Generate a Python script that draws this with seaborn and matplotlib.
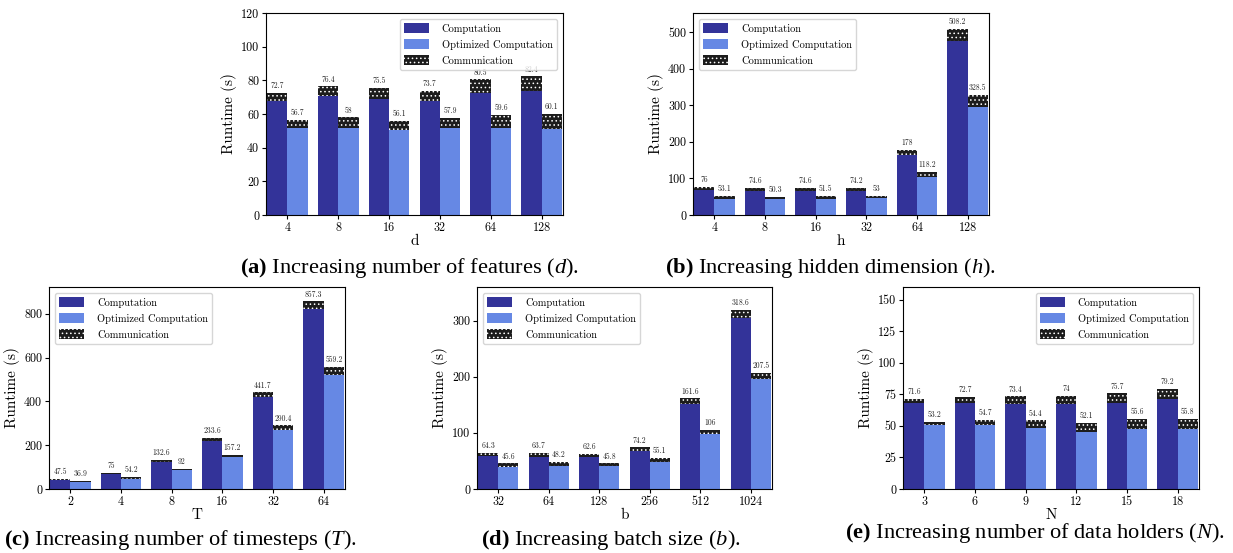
import numpy as np
import matplotlib
matplotlib.use("Agg")
import matplotlib.pyplot as plt
import matplotlib.patches as mpatches
import pandas as pd
import seaborn as sns

# values
d_vals = ["4", "8", "16", "32", "64", "128"]
d_comp = [67.5, 70.5, 69.2, 67.5, 72.7, 73.5]
d_opt = [51.4, 51.8, 50.2, 51.8, 51.8, 51.2]
d_total = [72.7, 76.4, 75.5, 73.7, 80.5, 82.4]
d_opt_total = [56.7, 58, 56.1, 57.9, 59.6, 60.1]

h_vals = ["4", "8", "16", "32", "64", "128"]
h_comp = [68.4, 65.0, 65.0, 65.0, 164, 476]
h_opt = [44.0, 44.0, 44.0, 46.5, 104, 296]
h_total = [76, 74.6, 74.6, 74.2, 178, 508.2]
h_opt_total = [53.1, 50.3, 51.5, 53, 118.2, 328.5]

t_vals = ["2", "4", "8", "16", "32", "64"]
t_comp = [39.5, 70, 123, 220, 420, 823]
t_opt = [33, 44, 85, 146, 269, 520]
t_total = [47.5, 75, 132.6, 233.6, 441.7, 857.3]
t_opt_total = [36.9, 54.2, 92, 157.2, 290.4, 559.2]

b_vals = ["32", "64", "128", "256", "512", "1024"]
b_comp = [59.4, 57.6, 56.4, 67, 151.5, 305]
b_opt = [39, 41.6, 41.6, 48.7, 97.4, 195.5]
b_total = [64.3, 63.7, 62.6, 74.2, 161.6, 318.6]
b_opt_total = [45.6, 48.2, 45.8, 55.1, 106, 207.5]

n_vals = ["3", "6", "9", "12", "15", "18"]
n_comp = [68.3, 68.3, 67.7, 67.5, 68.3, 70.9]
n_opt = [50.5, 50.5, 48.7, 45.2, 47.6, 47.6]
n_total = [71.6, 72.7, 73.4, 74, 75.7, 79.2]
n_opt_total = [53.2, 54.7, 54.4, 52.1, 55.6, 55.8]

DARK = "#333399"
LIGHT = "#6688e4"
HATCH_FACE = "#1c1c1c"
HATCH = "...."

plt.rcParams["mathtext.fontset"] = "custom"
plt.rcParams["mathtext.rm"] = "Liberation Serif"
plt.rcParams["mathtext.it"] = "Liberation Serif:italic"
plt.rcParams["mathtext.bf"] = "Liberation Serif:bold"
plt.rcParams["hatch.linewidth"] = 0.6
CM = "cmr10"

W, H = 1233, 553
fig = plt.figure(figsize=(W / 100, H / 100), dpi=100)


def px_axes(left, right, top, bottom):
    return fig.add_axes([left / W, (H - bottom) / H, (right - left) / W, (bottom - top) / H])


def panel(ax, xs, comp, opt, total, opt_total, xlabel, ymax, yticks, legend_loc):
    kinds = ["Computation", "Optimized Computation"]
    tot = pd.DataFrame({"x": xs * 2, "kind": np.repeat(kinds, len(xs)),
                        "val": total + opt_total})
    base = pd.DataFrame({"x": xs * 2, "kind": np.repeat(kinds, len(xs)),
                         "val": comp + opt})
    # totals first (communication on top), computation drawn over them
    sns.barplot(data=tot, x="x", y="val", hue="kind", order=xs, hue_order=kinds,
                palette=[HATCH_FACE, HATCH_FACE], saturation=1, errorbar=None,
                legend=False, width=0.8, ax=ax)
    for cont in ax.containers:
        for p in cont:
            p.set_hatch(HATCH)
            p.set_edgecolor("white")
            p.set_linewidth(0)
        ax.bar_label(cont, fmt="%g", padding=2, fontsize=5.5, family=CM, color="#222222")
    sns.barplot(data=base, x="x", y="val", hue="kind", order=xs, hue_order=kinds,
                palette=[DARK, LIGHT], saturation=1, errorbar=None,
                legend=False, width=0.8, linewidth=0, ax=ax)
    ax.set_xlim(-0.42, len(xs) - 0.58)
    ax.set_ylim(0, ymax)
    ax.set_yticks(yticks)
    ax.set_xlabel(xlabel, family=CM, fontsize=11, labelpad=0)
    ax.set_ylabel("Runtime (s)", family=CM, fontsize=11, labelpad=3)
    ax.tick_params(labelsize=8.7, length=3, pad=2)
    for lab in ax.get_xticklabels() + ax.get_yticklabels():
        lab.set_family(CM)
    handles = [mpatches.Patch(facecolor=DARK, label="Computation"),
               mpatches.Patch(facecolor=LIGHT, label="Optimized Computation"),
               mpatches.Patch(facecolor=HATCH_FACE, edgecolor="white", linewidth=0,
                              hatch=HATCH, label="Communication")]
    ax.legend(handles=handles, loc=legend_loc, prop={"family": CM, "size": 7.5},
              handlelength=2.4, handleheight=1.0, labelspacing=0.55,
              borderaxespad=0.6, handletextpad=1.2)


ax_a = px_axes(266, 563, 13, 215)
panel(ax_a, d_vals, d_comp, d_opt, d_total, d_opt_total, "d", 120,
      range(0, 121, 20), "upper right")
ax_b = px_axes(693, 989, 13, 215)
panel(ax_b, h_vals, h_comp, h_opt, h_total, h_opt_total, "h", 552,
      range(0, 501, 100), "upper left")
ax_c = px_axes(49, 345, 287, 489)
panel(ax_c, t_vals, t_comp, t_opt, t_total, t_opt_total, "T", 923,
      range(0, 801, 200), "upper left")
ax_d = px_axes(477, 772, 287, 489)
panel(ax_d, b_vals, b_comp, b_opt, b_total, b_opt_total, "b", 360,
      range(0, 301, 100), "upper left")
ax_e = px_axes(903, 1199, 287, 489)
panel(ax_e, n_vals, n_comp, n_opt, n_total, n_opt_total, "N", 160,
      range(0, 151, 25), "upper right")

captions = [
    (410, 268, r"$\mathbf{(a)}$ Increasing number of features ($\mathit{d}$)."),
    (831, 268, r"$\mathbf{(b)}$ Increasing hidden dimension ($\mathit{h}$)."),
    (180, 540, r"$\mathbf{(c)}$ Increasing number of timesteps ($\mathit{T}$)."),
    (611, 540, r"$\mathbf{(d)}$ Increasing batch size ($\mathit{b}$)."),
    (1035, 533, r"$\mathbf{(e)}$ Increasing number of data holders ($\mathit{N}$)."),
]
for cx, cy, txt in captions:
    fig.text(cx / W, (H - cy) / H, txt, ha="center", va="center",
             family="Liberation Serif", fontsize=16.2)

fig.savefig("out.png", dpi=100)
